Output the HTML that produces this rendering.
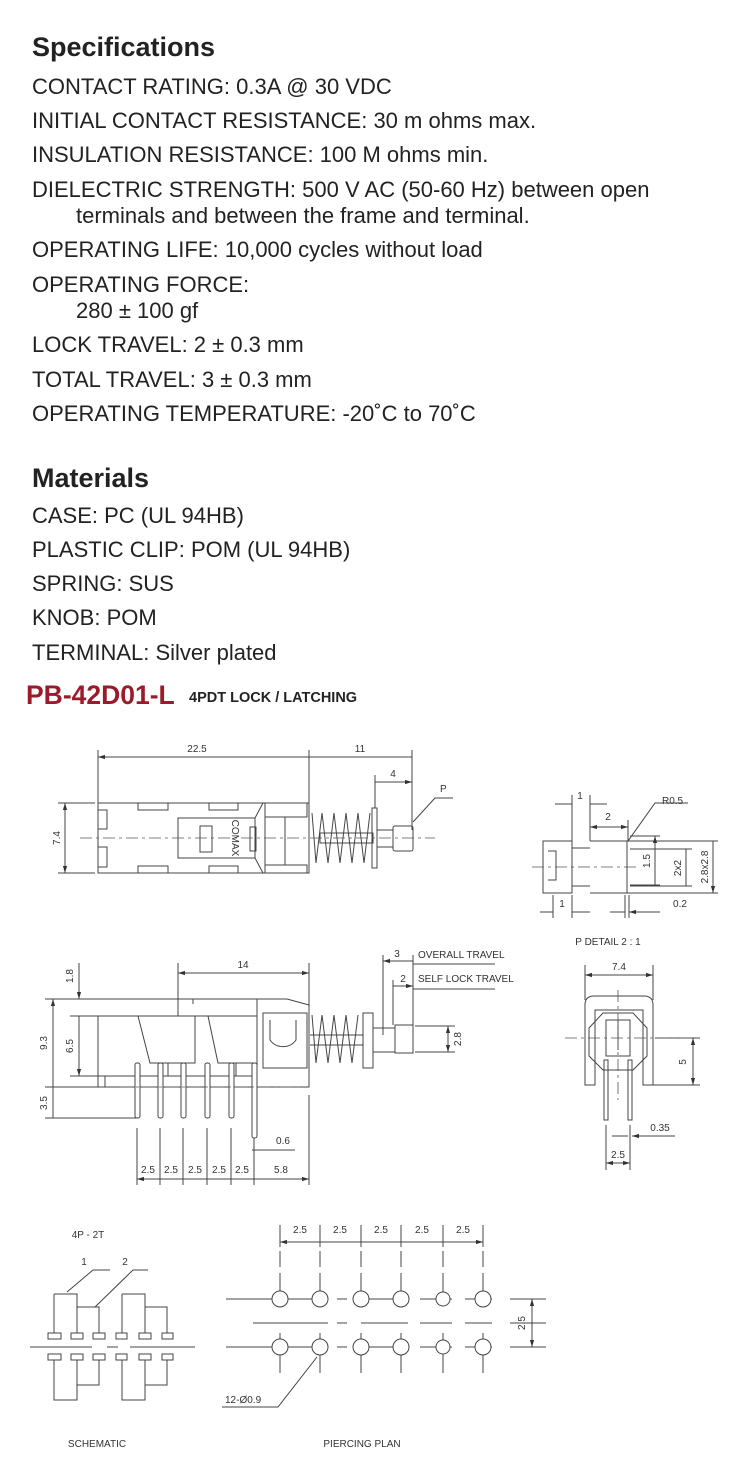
<!DOCTYPE html>
<html><head><meta charset="utf-8"><style>
html,body{margin:0;padding:0;background:#fff}
svg{display:block}
.t{font-family:"Liberation Sans",sans-serif;font-size:22px;fill:#222}
.h{font-family:"Liberation Sans",sans-serif;font-size:27px;font-weight:bold;fill:#222}
.d{font-family:"Liberation Sans",sans-serif;font-size:10px;fill:#333}
.l{stroke:#444;stroke-width:1;fill:none}
.c{stroke:#555;stroke-width:0.8;fill:none;stroke-dasharray:12 4 3 4}
</style></head><body>
<svg width="750" height="1475" viewBox="0 0 750 1475" xmlns="http://www.w3.org/2000/svg">
<defs>
<marker id="a" viewBox="0 0 10 10" refX="10" refY="5" markerWidth="7" markerHeight="7" orient="auto-start-reverse"><path d="M0,2 L10,5 L0,8z" fill="#333"/></marker>
</defs>
<text class="h" x="32" y="56">Specifications</text>
<text class="t" x="32" y="94">CONTACT RATING:  0.3A @ 30 VDC</text>
<text class="t" x="32" y="128">INITIAL CONTACT RESISTANCE:  30 m ohms max.</text>
<text class="t" x="32" y="162">INSULATION RESISTANCE: 100 M ohms min.</text>
<text class="t" x="32" y="197">DIELECTRIC STRENGTH: 500 V AC (50-60 Hz) between open</text>
<text class="t" x="76" y="223">terminals and between the frame and terminal.</text>
<text class="t" x="32" y="257">OPERATING LIFE: 10,000 cycles without load</text>
<text class="t" x="32" y="292">OPERATING FORCE:</text>
<text class="t" x="76" y="318">280 ± 100 gf</text>
<text class="t" x="32" y="352">LOCK TRAVEL: 2 ± 0.3 mm</text>
<text class="t" x="32" y="387">TOTAL TRAVEL: 3 ± 0.3 mm</text>
<text class="t" x="32" y="421">OPERATING TEMPERATURE: -20˚C to 70˚C</text>
<text class="h" x="32" y="487">Materials</text>
<text class="t" x="32" y="523">CASE: PC (UL 94HB)</text>
<text class="t" x="32" y="557">PLASTIC CLIP: POM (UL 94HB)</text>
<text class="t" x="32" y="591">SPRING: SUS</text>
<text class="t" x="32" y="625">KNOB: POM</text>
<text class="t" x="32" y="660">TERMINAL: Silver plated</text>
<text x="26" y="704" style="font-family:'Liberation Sans',sans-serif;font-size:26.5px;font-weight:bold;fill:#9b1b2a">PB-42D01-L</text>
<text x="189" y="702" style="font-family:'Liberation Sans',sans-serif;font-size:14.5px;font-weight:bold;fill:#222">4PDT  LOCK / LATCHING</text>

<!-- Drawing 1 -->
<g class="l">
<path d="M98,750V803M309,750V803M412,750V830M375,775V808"/>
<path d="M98,757H309M309,757H412M375,782H412" marker-start="url(#a)" marker-end="url(#a)"/>
<path d="M58,803H95M58,873H95"/>
<path d="M65,803V873" marker-start="url(#a)" marker-end="url(#a)"/>
<path d="M98,803H255L265,803V873H98Z"/>
<rect x="138" y="803" width="30" height="7"/><rect x="209" y="803" width="29" height="7"/>
<rect x="138" y="866" width="30" height="7"/><rect x="209" y="866" width="29" height="7"/>
<rect x="98" y="810" width="9" height="19"/><rect x="98" y="847" width="9" height="20"/>
<rect x="178" y="818" width="77" height="40"/><rect x="200" y="826" width="12" height="26"/>
<path d="M255,818L263,803H309V873H263L255,858"/>
<rect x="265" y="803" width="42" height="14"/><rect x="265" y="865" width="42" height="8"/>
<path d="M285,817V865"/>
<rect x="250" y="827" width="6" height="24"/>
<path d="M312,813L316,863L322,813L328,863L334,813L340,863L346,813L352,863L358,813L364,863L370,813"/>
<rect x="320" y="833" width="53" height="10"/>
<rect x="372" y="808" width="5" height="60"/>
<rect x="377" y="830" width="16" height="17"/>
<rect x="393" y="826" width="20" height="25" rx="2"/>
<path d="M413,822L435,798H453"/>
</g>
<path class="c" d="M80,838H435"/>
<text class="d" x="197" y="752" text-anchor="middle">22.5</text>
<text class="d" x="360" y="752" text-anchor="middle">11</text>
<text class="d" x="393" y="777" text-anchor="middle">4</text>
<text class="d" x="440" y="792">P</text>
<text class="d" transform="translate(60,838) rotate(-90)" text-anchor="middle">7.4</text>
<text class="d" transform="translate(232,838) rotate(90)" text-anchor="middle">COMAX</text>

<!-- Drawing 2 -->
<g class="l">
<path d="M178,963V999M309,963V1087M45,999H257M70,1016H98M70,1076H98M45,1087H98M45,1118H137"/>
<path d="M178,973H309" marker-start="url(#a)" marker-end="url(#a)"/>
<path d="M53,999V1087M53,1087V1118M79,1016V1076" marker-start="url(#a)" marker-end="url(#a)"/>
<path d="M79,963V999" marker-end="url(#a)"/>
<path d="M98,1016H178V999M193,999V1004M257,999V1087H98V1016"/>
<path d="M98,1076H257M105,1076V1087"/>
<path d="M178,1016H257"/>
<path d="M138,1016L150,1063H195V1016M195,1016H257M208,1016L218,1063H254"/>
<path d="M150,1063H168V1076M218,1063H236V1076"/>
<path d="M257,999H287L309,1005V1087H257Z"/>
<rect x="263" y="1013" width="44" height="55"/>
<path d="M270,1020V1040A16,16 0 0 0 296,1040V1020"/>
<path d="M312,1015L316,1063L322,1015L328,1063L334,1015L340,1063L346,1015L352,1063L358,1015"/>
<path d="M310,1035H363M310,1045H363"/>
<rect x="363" y="1013" width="10" height="55"/>
<rect x="373" y="1028" width="22" height="24"/>
<rect x="395" y="1025" width="18" height="28"/>
<path d="M383,955V1035M393,980V1025M413,955V1053M415,1026H455M415,1052H455"/>
<path d="M383,961H413M393,986H413" marker-start="url(#a)" marker-end="url(#a)"/>
<path d="M413,964H495M413,989H495"/>
<path d="M448,1026V1052" marker-start="url(#a)" marker-end="url(#a)"/>
<path d="M137,1128V1185M160,1128V1185M183,1128V1185M207,1128V1185M231,1128V1185M254,1128V1185M309,1095V1185M252,1150H295"/>
<path d="M137,1179H160M160,1179H183M183,1179H207M207,1179H231M231,1179H254M254,1179H309" marker-start="url(#a)" marker-end="url(#a)"/>
</g>
<g fill="#fff" stroke="#444">
<rect x="135" y="1063" width="5" height="55" rx="2"/><rect x="158" y="1063" width="5" height="55" rx="2"/>
<rect x="181" y="1063" width="5" height="55" rx="2"/><rect x="205" y="1063" width="5" height="55" rx="2"/>
<rect x="229" y="1063" width="5" height="55" rx="2"/><rect x="252" y="1063" width="5" height="75" rx="2"/>
</g>
<path class="c" d="M120,1087H300"/>
<text class="d" x="243" y="968" text-anchor="middle">14</text>
<text class="d" x="397" y="957" text-anchor="middle">3</text>
<text class="d" x="403" y="982" text-anchor="middle">2</text>
<text class="d" x="418" y="958">OVERALL TRAVEL</text>
<text class="d" x="418" y="982">SELF LOCK TRAVEL</text>
<text class="d" transform="translate(73,976) rotate(-90)" text-anchor="middle">1.8</text>
<text class="d" transform="translate(47,1043) rotate(-90)" text-anchor="middle">9.3</text>
<text class="d" transform="translate(73,1046) rotate(-90)" text-anchor="middle">6.5</text>
<text class="d" transform="translate(47,1103) rotate(-90)" text-anchor="middle">3.5</text>
<text class="d" transform="translate(461,1039) rotate(-90)" text-anchor="middle">2.8</text>
<text class="d" x="283" y="1144" text-anchor="middle">0.6</text>
<text class="d" x="148" y="1173" text-anchor="middle">2.5</text><text class="d" x="171" y="1173" text-anchor="middle">2.5</text>
<text class="d" x="195" y="1173" text-anchor="middle">2.5</text><text class="d" x="219" y="1173" text-anchor="middle">2.5</text>
<text class="d" x="242" y="1173" text-anchor="middle">2.5</text><text class="d" x="281" y="1173" text-anchor="middle">5.8</text>

<!-- P detail -->
<g class="l">
<path d="M543,841H572V893H543ZM572,848H590M572,886H590M590,841H627V893H590M627,841V893M627,841H718M627,893H718"/>
<path d="M548,851H556V880H548"/>
<path d="M572,795V841M590,795V841M628,820V841M553,895V918M572,895V918M625,895V918M629,895V918"/>
<path d="M555,804H572M607,804H590M540,912H553M590,912H572M610,912H625M660,912H629" marker-end="url(#a)"/>
<path d="M590,827H628" marker-start="url(#a)" marker-end="url(#a)"/>
<path d="M628,841L655,803H688"/>
<path d="M630,836H660M630,885H660M630,849H692M630,886H692"/>
<path d="M655,836V885M686,849V886M713,841V893" marker-start="url(#a)" marker-end="url(#a)"/>
</g>
<path class="c" d="M532,867H640"/>
<text class="d" x="580" y="799" text-anchor="middle">1</text>
<text class="d" x="608" y="820" text-anchor="middle">2</text>
<text class="d" x="662" y="804">R0.5</text>
<text class="d" x="562" y="907" text-anchor="middle">1</text>
<text class="d" x="680" y="907" text-anchor="middle">0.2</text>
<text class="d" transform="translate(650,861) rotate(-90)" text-anchor="middle">1.5</text>
<text class="d" transform="translate(681,868) rotate(-90)" text-anchor="middle">2x2</text>
<text class="d" transform="translate(708,867) rotate(-90)" text-anchor="middle">2.8x2.8</text>
<text class="d" x="608" y="945" text-anchor="middle">P DETAIL 2 : 1</text>

<!-- front view -->
<g class="l">
<path d="M585,965V1000M653,965V1000"/>
<path d="M585,975H653" marker-start="url(#a)" marker-end="url(#a)"/>
<path d="M585,1085V1005Q585,996 594,996H644Q653,996 653,1005V1085H643V1010H595V1085Z"/>
<path d="M603,1013L633,1013L647,1028V1056L633,1070H603L589,1056V1028Z"/>
<rect x="606" y="1020" width="24" height="36"/><path d="M618,1020V1050"/>
<rect x="604" y="1060" width="4" height="60"/><rect x="628" y="1060" width="4" height="60"/>
<path d="M655,1038H700M645,1085H700"/>
<path d="M693,1038V1085" marker-start="url(#a)" marker-end="url(#a)"/>
<path d="M606,1125V1170M630,1125V1170"/>
<path d="M612,1136H628M645,1136H632" marker-end="url(#a)"/><path d="M645,1136H675"/>
<path d="M606,1163H630" marker-start="url(#a)" marker-end="url(#a)"/>
</g>
<path class="c" d="M565,1038H700M618,990V1100"/>
<text class="d" x="619" y="970" text-anchor="middle">7.4</text>
<text class="d" transform="translate(686,1062) rotate(-90)" text-anchor="middle">5</text>
<text class="d" x="660" y="1131" text-anchor="middle">0.35</text>
<text class="d" x="618" y="1158" text-anchor="middle">2.5</text>

<!-- schematic -->
<g class="l">
<path d="M30,1347H92M107,1347H118M130,1347H195"/>
<g fill="#fff">
<rect x="48" y="1333" width="13" height="6"/><rect x="71" y="1333" width="12" height="6"/><rect x="93" y="1333" width="12" height="6"/>
<rect x="116" y="1333" width="11" height="6"/><rect x="139" y="1333" width="12" height="6"/><rect x="162" y="1333" width="11" height="6"/>
<rect x="48" y="1354" width="13" height="6"/><rect x="71" y="1354" width="12" height="6"/><rect x="93" y="1354" width="12" height="6"/>
<rect x="116" y="1354" width="11" height="6"/><rect x="139" y="1354" width="12" height="6"/><rect x="162" y="1354" width="11" height="6"/>
</g>
<path d="M54,1294H77V1333M54,1294V1333M77,1307H99V1333M122,1294H145V1333M122,1294V1333M145,1307H167V1333"/>
<path d="M54,1360V1400H77V1360M77,1385H99V1360M122,1360V1400H145V1360M145,1385H167V1360"/>
<path d="M93,1270L67,1292M93,1270H110M133,1270L95,1307M133,1270H148"/>
</g>
<text class="d" x="88" y="1238" text-anchor="middle">4P - 2T</text>
<text class="d" x="84" y="1265" text-anchor="middle">1</text>
<text class="d" x="125" y="1265" text-anchor="middle">2</text>
<text class="d" x="97" y="1447" text-anchor="middle">SCHEMATIC</text>

<!-- piercing plan -->
<g class="l">
<path d="M280,1225V1375M320,1225V1375M361,1225V1375M401,1225V1375M443,1225V1375M483,1225V1375" stroke-dasharray="22 4 16 6 30 30 40 8 5"/>
<path d="M280,1242H320M320,1242H361M361,1242H401M401,1242H443M443,1242H483" marker-start="url(#a)" marker-end="url(#a)"/>
<path d="M226,1299H328M337,1299H347M355,1299H408M420,1299H452M465,1299H492M510,1299H546"/>
<path d="M253,1323H328M337,1323H347M361,1323H408M420,1323H452M465,1323H492M510,1323H546"/>
<path d="M226,1347H328M337,1347H347M355,1347H408M420,1347H452M465,1347H492M510,1347H546"/>
<g fill="#fff">
<circle cx="280" cy="1299" r="8"/><circle cx="320" cy="1299" r="8"/><circle cx="361" cy="1299" r="8"/><circle cx="401" cy="1299" r="8"/><circle cx="443" cy="1299" r="7"/><circle cx="483" cy="1299" r="8"/>
<circle cx="280" cy="1347" r="8"/><circle cx="320" cy="1347" r="8"/><circle cx="361" cy="1347" r="8"/><circle cx="401" cy="1347" r="8"/><circle cx="443" cy="1347" r="7"/><circle cx="483" cy="1347" r="8"/>
</g>
<path d="M532,1299V1347" marker-start="url(#a)" marker-end="url(#a)"/>
<path d="M317,1357L278,1407H222"/>
</g>
<g class="d"><text x="300" y="1233" text-anchor="middle">2.5</text><text x="340" y="1233" text-anchor="middle">2.5</text><text x="381" y="1233" text-anchor="middle">2.5</text><text x="422" y="1233" text-anchor="middle">2.5</text><text x="463" y="1233" text-anchor="middle">2.5</text></g>
<text class="d" transform="translate(525,1323) rotate(-90)" text-anchor="middle">2.5</text>
<text class="d" x="225" y="1403">12-Ø0.9</text>
<text class="d" x="362" y="1447" text-anchor="middle">PIERCING PLAN</text>
</svg>
</body></html>
